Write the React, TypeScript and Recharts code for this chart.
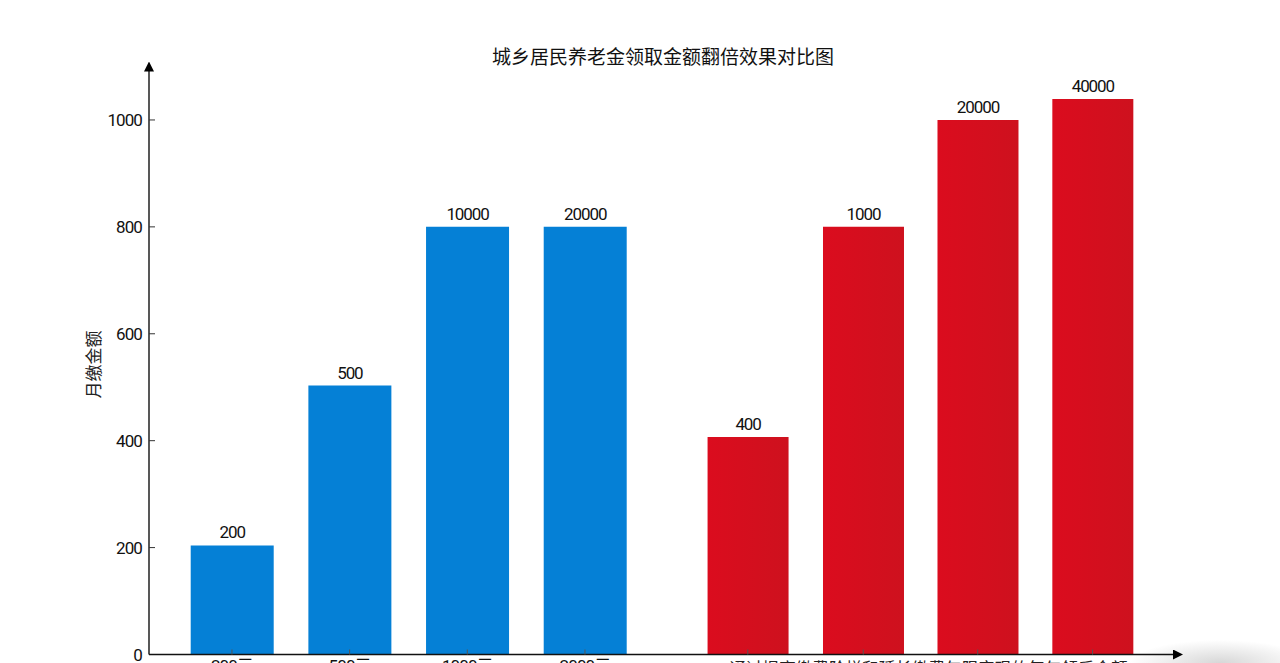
import React from "react";
import { BarChart, Bar, XAxis, YAxis, LabelList, Label } from "recharts";

const TITLE = "城乡居民养老金领取金额翻倍效果对比图";
const Y_TITLE = "月缴金额";
const RED_GROUP_TITLE = "通过提高缴费阶梯和延长缴费年限实现的每年领后金额";
const yTicks = [0, 200, 400, 600, 800, 1000];

const categories = ["200元", "500元", "1000元", "2000元", "", "", "", ""];
const slots = [1, 2, 3, 4, 5.384, 6.365, 7.338, 8.314];
const blueHeights = [204, 503, 800, 800, null, null, null, null];
const redHeights = [null, null, null, null, 407, 800, 1000, 1039];
const barLabels = ["200", "500", "10000", "20000", "400", "1000", "20000", "40000"];

const rows = slots.map((slot, i) => ({
  slot,
  blue: blueHeights[i],
  red: redHeights[i],
  label: barLabels[i],
}));
const xDomain = [0.295, 9.04];

const FONT = "Roboto, 'Noto Sans CJK SC', sans-serif";
const CJK = "'Noto Sans CJK SC', sans-serif";
const digitStyle = { fontFamily: FONT, fontSize: 17, letterSpacing: -1.1, fill: "#111" };

export default function App() {
  return (
    <div style={{ position: "fixed", left: 0, top: 0, width: 1280, height: 663, overflow: "hidden", background: "#fff" }}>
      <div style={{ position: "absolute", left: 1110, top: 640, width: 200, height: 46, background: "radial-gradient(ellipse closest-side at 55% 50%, rgba(205,205,205,0.8), rgba(215,215,215,0))" }} />
      <div style={{ position: "absolute", left: 0, right: 0, top: 42, textAlign: "center", fontFamily: CJK, fontSize: 19, lineHeight: "28px", color: "#111", transform: "translateX(23px)" }}>{TITLE}</div>
      <div style={{ position: "absolute", left: 0, top: 0 }}>
        <BarChart width={1280} height={720} data={rows} margin={{ top: 66.5, right: 102, bottom: 35.5, left: 89 }}>
          <defs>
            <marker id="arrowHead" markerUnits="userSpaceOnUse" markerWidth="10" markerHeight="10" refX="4" refY="4" orient="auto-start-reverse" viewBox="0 0 8 8">
              <path d="M0 0L8 4L0 8Z" fill="#000" />
            </marker>
            <linearGradient id="redFill" x1="0" y1="0" x2="1" y2="0">
              <stop offset="0" stopColor="#DB0C1E" />
              <stop offset="1" stopColor="#CE111E" />
            </linearGradient>
          </defs>
          <YAxis
            type="number"
            width={60}
            domain={[0, 1100]}
            ticks={yTicks}
            interval={0}
            tickSize={-6}
            tickMargin={13}
            axisLine={{ stroke: "#111", strokeWidth: 1.4, markerStart: "url(#arrowHead)" }}
            tickLine={{ stroke: "#333" }}
            tick={{ fill: "#111", fontSize: 17, letterSpacing: -0.9, fontFamily: FONT }}
          >
            <Label value={Y_TITLE} angle={-90} position="insideLeft" offset={5} dy={38} style={{ fontFamily: CJK, fontSize: 17, fill: "#222" }} />
          </YAxis>
          <XAxis
            xAxisId="main"
            dataKey="slot"
            type="number"
            height={30}
            domain={xDomain}
            allowDataOverflow
            ticks={slots}
            interval={0}
            tickSize={-5}
            tickMargin={10}
            tickFormatter={(v: number) => categories[slots.indexOf(v)]}
            axisLine={{ stroke: "#111", strokeWidth: 1.4, markerEnd: "url(#arrowHead)" }}
            tickLine={{ stroke: "#555" }}
            tick={{ fill: "#111", fontSize: 17, letterSpacing: -0.9, fontFamily: FONT }}
          >
            <Label value={RED_GROUP_TITLE} position="bottom" dx={265} offset={-21} style={{ fontFamily: CJK, fontSize: 16.6, fill: "#222" }} />
          </XAxis>
          <XAxis xAxisId="second" dataKey="slot" type="number" hide domain={xDomain} allowDataOverflow />
          <Bar xAxisId="main" dataKey="blue" barSize={83} fill="#0580D6" isAnimationActive={false}>
            <LabelList dataKey="label" position="top" offset={7} style={digitStyle} />
          </Bar>
          <Bar xAxisId="second" dataKey="red" barSize={81} fill="url(#redFill)" isAnimationActive={false}>
            <LabelList dataKey="label" position="top" offset={7} style={digitStyle} />
          </Bar>
        </BarChart>
      </div>
    </div>
  );
}
